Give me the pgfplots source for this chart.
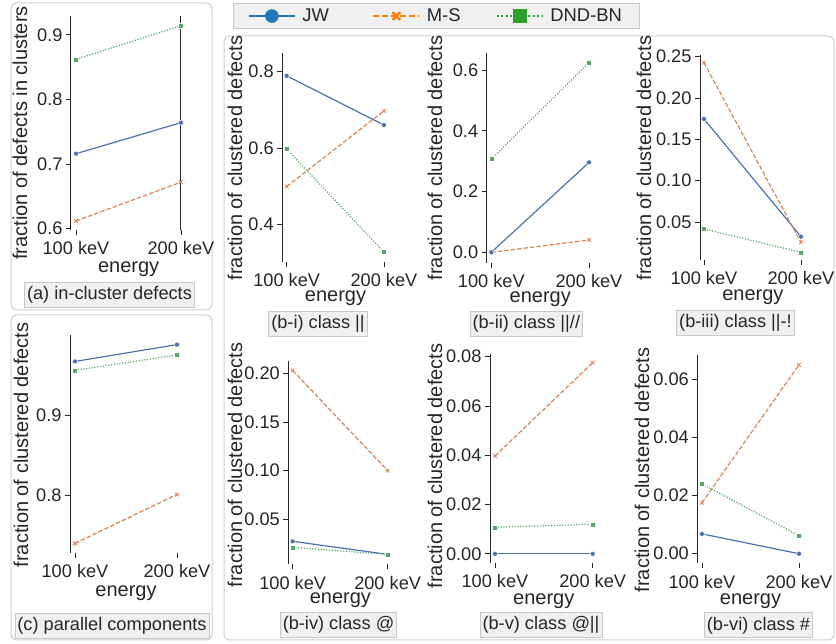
\documentclass[border=0pt]{standalone}
\usepackage{fontspec}
\setmainfont{Liberation Sans}
\usepackage{pgfplots}
\pgfplotsset{compat=1.18}
\definecolor{cJW}{HTML}{4C72B0}
\definecolor{cMS}{HTML}{DD8452}
\definecolor{cDN}{HTML}{55A868}
\definecolor{lJW}{HTML}{1F77B4}
\definecolor{lMS}{HTML}{FF7F0E}
\definecolor{lDN}{HTML}{2CA02C}
\definecolor{spine}{HTML}{262626}
\definecolor{txt}{HTML}{262626}
\definecolor{boxfill}{HTML}{F0F0F0}
\definecolor{boxedge}{HTML}{C8C8C8}
\definecolor{panelc}{HTML}{D0D0D0}
\newcommand\lbl{\fontsize{18.2}{21}\selectfont}
\newcommand\albl{\fontsize{20}{23}\selectfont}
\newcommand\leg{\fontsize{18.4}{21}\selectfont}
\tikzset{
 ylab/.style={font=\albl, text=txt, rotate=90, anchor=center},
 capbox/.style={font=\lbl, text=txt, fill=boxfill, draw=boxedge, line width=0.8pt, inner xsep=2.5pt, minimum height=25pt},
 jw/.style={color=cJW, line width=1.2pt, solid, mark=*, mark size=2.5pt, mark options={solid, fill=cJW, draw=white, line width=0.4pt}},
 ms/.style={color=cMS, line width=1.2pt, dash pattern=on 4.5pt off 2pt, mark=x, mark size=2.6pt, mark options={solid, line width=0.9pt}},
 dnd/.style={color=cDN, line width=1.2pt, dash pattern=on 1.2pt off 1.6pt, mark=square*, mark size=2.5pt, mark options={solid, fill=cDN, draw=white, line width=0.4pt}},
}
\pgfplotsset{
 panel/.style={
  scale only axis, anchor=south west,
  axis lines*=left,
  x axis line style={draw=none},
  y axis line style={draw=spine, line width=1pt},
  tick align=outside, major tick length=5pt,
  every tick/.style={spine, line width=0.8pt},
  scaled y ticks=false,
  xtick={0,1}, xticklabels={100 keV,200 keV}, xmax=1.05,
  ticklabel style={font=\lbl, text=txt},
  xticklabel style={yshift=-3pt},
  xlabel={energy},
  xlabel style={font=\albl, text=txt, at={(rel axis cs:0.5,0)}, anchor=center},
  clip=false, enlargelimits=false,
 },
}
\begin{document}
\begin{tikzpicture}
\useasboundingbox (0pt,0pt) rectangle (836pt,644pt);
\draw[panelc, line width=1pt, rounded corners=6pt] (11pt,334pt) rectangle (212pt,641pt);
\draw[panelc, line width=1pt, rounded corners=6pt] (11pt,4pt) rectangle (212pt,329pt);
\draw[panelc, line width=1pt, rounded corners=6pt] (224pt,4pt) rectangle (834pt,608pt);

% (a)
\begin{axis}[panel, at={(71pt,414pt)}, width=115.2pt, height=214pt,
  xmin=-0.0476, ymin=0.598, ymax=0.929,
  ytick={0.6,0.7,0.8,0.9}, yticklabels={0.6,0.7,0.8,0.9},
  xlabel style={yshift=-39pt}]
\addplot[jw] coordinates {(0,0.716) (1,0.764)};
\addplot[ms] coordinates {(0,0.612) (1,0.672)};
\addplot[dnd] coordinates {(0,0.862) (1,0.914)};
\draw[spine, line width=1pt] (axis cs:1,0.598) -- (axis cs:1,0.929);
\end{axis}
\node[ylab] at (20pt,511pt) {fraction of defects in clusters};
\node[capbox] at (109.5pt,349pt) {(a) in-cluster defects};

% (c)
\begin{axis}[panel, at={(70pt,91pt)}, width=112.1pt, height=218pt,
  xmin=-0.049, ymin=0.728, ymax=1.0,
  ytick={0.8,0.9}, yticklabels={0.8,0.9},
  xlabel style={yshift=-40pt}]
\addplot[jw] coordinates {(0,0.967) (1,0.988)};
\addplot[ms] coordinates {(0,0.740) (1,0.801)};
\addplot[dnd] coordinates {(0,0.956) (1,0.975)};
\end{axis}
\node[ylab] at (21pt,199pt) {fraction of clustered defects};
\node[capbox] at (112pt,18.5pt) {(c) parallel components};

% (b-i)
\begin{axis}[panel, at={(282.3pt,382.3pt)}, width=106.5pt, height=208.4pt,
  xmin=-0.045, ymin=0.302, ymax=0.848,
  ytick={0.4,0.6,0.8}, yticklabels={0.4,0.6,0.8},
  xlabel style={yshift=-36.3pt},
  legend style={at={(-0.4676,1.2414)}, anchor=north west, legend columns=3,
    fill=boxfill, draw=boxedge, line width=0.8pt, font=\leg, text=txt,
    nodes={inner xsep=0pt, inner ysep=0pt},
    /tikz/every odd column/.append style={column sep=6.5pt},
    /tikz/every even column/.append style={column sep=0pt},
    inner xsep=15pt, inner ysep=5.5pt},
  legend image code/.code={\draw[mark repeat=2,mark phase=2,#1] plot coordinates {(0pt,0pt) (23pt,0pt) (46pt,0pt)};}]
\addlegendimage{color=lJW, line width=2pt, solid, mark=*, mark size=5.8pt, mark options={solid, fill=lJW, draw=lJW}}
\addlegendentry{\makebox[70pt][l]{JW}}
\addlegendimage{color=lMS, line width=2pt, dash pattern=on 6pt off 3pt, mark=x, mark size=5.5pt, mark options={solid, line width=2.6pt}}
\addlegendentry{\makebox[69pt][l]{M-S}}
\addlegendimage{color=lDN, line width=2pt, dash pattern=on 2pt off 2.5pt, mark=square*, mark size=6pt, mark options={solid, fill=lDN, draw=lDN}}
\addlegendentry{\makebox[74pt][l]{DND-BN}}
\addplot[jw, forget plot] coordinates {(0,0.789) (1,0.660)};
\addplot[ms, forget plot] coordinates {(0,0.499) (1,0.697)};
\addplot[dnd, forget plot] coordinates {(0,0.597) (1,0.327)};
\end{axis}
\node[ylab] at (235pt,486pt) {fraction of clustered defects};
\node[capbox] at (318pt,320pt) {(b-i) class ||};

% (b-ii)
\begin{axis}[panel, at={(486.7pt,381.3pt)}, width=107.2pt, height=209.4pt,
  xmin=-0.047, ymin=-0.034, ymax=0.655,
  ytick={0,0.2,0.4,0.6}, yticklabels={0.0,0.2,0.4,0.6},
  xlabel style={yshift=-36.6pt}]
\addplot[ms] coordinates {(0,0.0) (1,0.0405)};
\addplot[jw] coordinates {(0,0.0) (1,0.296)};
\addplot[dnd] coordinates {(0,0.307) (1,0.624)};
\end{axis}
\node[ylab] at (435pt,486pt) {fraction of clustered defects};
\node[capbox] at (526.3pt,320.3pt) {(b-ii) class ||//};

% (b-iii)
\begin{axis}[panel, at={(700pt,384pt)}, width=105.8pt, height=205pt,
  xmin=-0.041, ymin=0.004, ymax=0.252,
  ytick={0.05,0.10,0.15,0.20,0.25}, yticklabels={0.05,0.10,0.15,0.20,0.25},
  xlabel style={yshift=-37.3pt}]
\addplot[jw] coordinates {(0,0.1746) (1,0.0322)};
\addplot[ms] coordinates {(0,0.2427) (1,0.0254)};
\addplot[dnd] coordinates {(0,0.0415) (1,0.0133)};
\end{axis}
\node[ylab] at (644pt,486pt) {fraction of clustered defects};
\node[capbox] at (735.5pt,321.5pt) {(b-iii) class ||-!};

% (b-iv)
\begin{axis}[panel, at={(288.3pt,79.7pt)}, width=104.1pt, height=203.6pt,
  xmin=-0.046, ymin=0.0038, ymax=0.213,
  ytick={0.05,0.10,0.15,0.20}, yticklabels={0.05,0.10,0.15,0.20},
  xlabel style={yshift=-36.4pt}]
\addplot[jw] coordinates {(0,0.0274) (1,0.014)};
\addplot[ms] coordinates {(0,0.203) (1,0.100)};
\addplot[dnd] coordinates {(0,0.0212) (1,0.014)};
\end{axis}
\node[ylab] at (235pt,179pt) {fraction of clustered defects};
\node[capbox] at (338.5pt,19pt) {(b-iv) class @};

% (b-v)
\begin{axis}[panel, at={(490pt,81pt)}, width=107.6pt, height=209pt,
  xmin=-0.051, ymin=-0.0037, ymax=0.0811,
  ytick={0,0.02,0.04,0.06,0.08}, yticklabels={0.00,0.02,0.04,0.06,0.08},
  xlabel style={yshift=-38.7pt}]
\addplot[jw] coordinates {(0,0.0) (1,0.0)};
\addplot[ms] coordinates {(0,0.0397) (1,0.0776)};
\addplot[dnd] coordinates {(0,0.0108) (1,0.012)};
\end{axis}
\node[ylab] at (435pt,178pt) {fraction of clustered defects};
\node[capbox] at (541pt,19.3pt) {(b-v) class @||};

% (b-vi)
\begin{axis}[panel, at={(697.3pt,80.7pt)}, width=106.5pt, height=208.3pt,
  xmin=-0.048, ymin=-0.0033, ymax=0.0683,
  ytick={0,0.02,0.04,0.06}, yticklabels={0.00,0.02,0.04,0.06},
  xlabel style={yshift=-38.4pt}]
\addplot[jw] coordinates {(0,0.0068) (1,0.0)};
\addplot[ms] coordinates {(0,0.0175) (1,0.0649)};
\addplot[dnd] coordinates {(0,0.024) (1,0.0062)};
\end{axis}
\node[ylab] at (642pt,174pt) {fraction of clustered defects};
\node[capbox] at (758.5pt,18.6pt) {(b-vi) class \#};
\end{tikzpicture}
\end{document}
